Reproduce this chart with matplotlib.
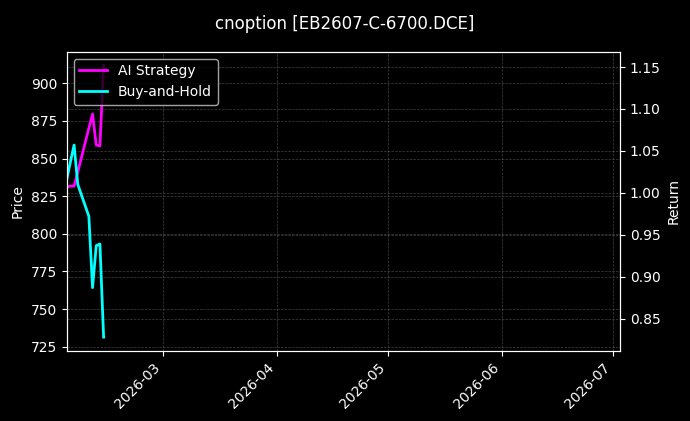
import matplotlib
matplotlib.use("Agg")
import matplotlib.pyplot as plt
import matplotlib.dates as mdates
import pandas as pd

# values
dates = ["2026-02-03", "2026-02-04", "2026-02-05", "2026-02-06", "2026-02-09",
         "2026-02-10", "2026-02-11", "2026-02-12", "2026-02-13"]
ai_strategy = [1.007, 1.008, 1.008, 1.025, 1.077, 1.094, 1.057, 1.056, 1.152]
buy_and_hold = [1.016, 1.037, 1.057, 1.010, 0.972, 0.887, 0.937, 0.939, 0.828]
price_range = (722.3, 921.0)
x_range = ("2026-02-03", "2026-07-03")
title = "cnoption [EB2607-C-6700.DCE]"

plt.style.use("dark_background")
x = pd.to_datetime(dates)

fig = plt.figure(figsize=(6.9, 4.21), dpi=100)
ax1 = fig.add_axes([0.0967, 0.167, 0.8019, 0.710])
ax2 = ax1.twinx()

ax2.plot(x, ai_strategy, color="magenta", linewidth=2, label="AI Strategy")
ax2.plot(x, buy_and_hold, color="cyan", linewidth=2, label="Buy-and-Hold")

ax1.set_ylim(*price_range)
ax1.set_xlim(pd.Timestamp(x_range[0]), pd.Timestamp(x_range[1]))
ax1.set_ylabel("Price")
ax2.set_ylabel("Return")

ax1.xaxis.set_major_locator(mdates.MonthLocator())
ax1.xaxis.set_major_formatter(mdates.DateFormatter("%Y-%m"))
for label in ax1.get_xticklabels():
    label.set_rotation(45)
    label.set_ha("right")

ax1.grid(True, color="gray", linestyle="--", linewidth=0.5, alpha=0.5)
ax2.grid(True, color="gray", linestyle="--", linewidth=0.5, alpha=0.5)

ax2.legend(loc="upper left")
fig.suptitle(title, fontsize=12, y=0.965)

fig.savefig("out.png", dpi=100)
